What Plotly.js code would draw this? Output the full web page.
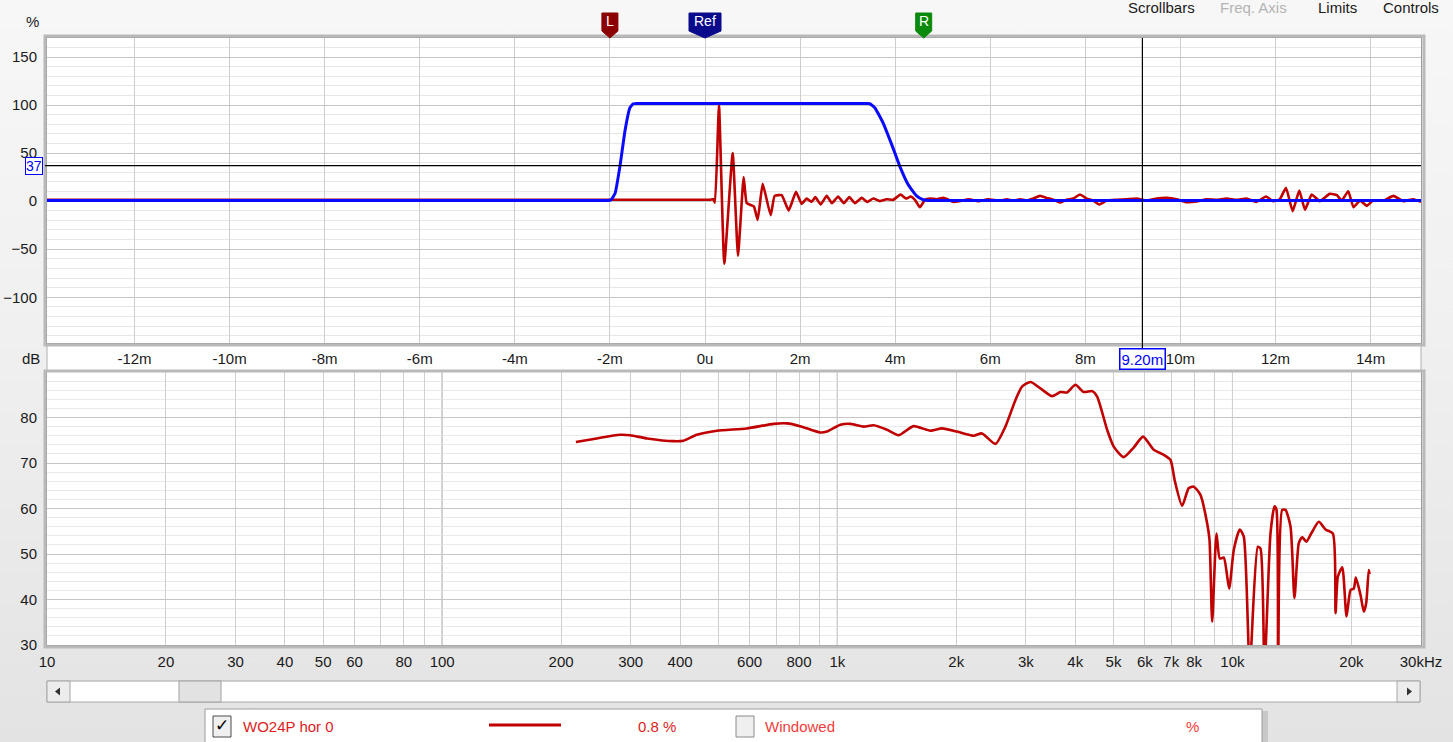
<!DOCTYPE html>
<html><head><meta charset="utf-8">
<script src="https://cdn.plot.ly/plotly-3.0.1.min.js"></script>
<style>
html,body{margin:0;padding:0;width:1453px;height:742px;overflow:hidden;background:linear-gradient(#f7f7f7 0%,#f0f0f0 45%,#e3e3e3 100%);}
#chart{width:1453px;height:742px;}
</style></head><body><div id="chart"></div>
<script>
// ---------- data ----------
const timeMs = [
 -13.84, -8, -2, 0.1, 0.175, 0.21, 0.294, 0.406, 0.582, 0.694, 0.813, 0.876, 0.96,
 1.03, 1.108, 1.213, 1.381, 1.465, 1.613, 1.76, 1.914, 2.033, 2.138,
 2.243, 2.32, 2.433, 2.56, 2.67, 2.80, 2.92, 3.035, 3.155, 3.295,
 3.414, 3.54, 3.68, 3.82, 3.96, 4.115, 4.227, 4.326, 4.416, 4.52,
 4.627, 4.73, 4.87, 5.01, 5.10, 5.21, 5.35, 5.55, 5.75, 5.95,
 6.204, 6.345, 6.485, 6.625, 6.765, 6.905, 7.045, 7.186, 7.326, 7.466,
 7.606, 7.746, 7.886, 8.027, 8.167, 8.29, 8.447, 8.66, 8.868, 9.08,
 9.29, 9.50, 9.71, 9.92, 10.13, 10.34, 10.55, 10.76, 10.97, 11.18,
 11.39, 11.60, 11.80, 11.95, 12.09, 12.22, 12.36, 12.50, 12.62, 12.76,
 12.93, 13.14, 13.29, 13.39, 13.53, 13.64, 13.78, 13.92, 14.05, 14.27,
 14.48, 14.69, 14.90, 15.06];
const impulsePct = [
 1.5, 1.5, 1.5, 1.5, 2, -1.5, 100, -65, 50, -57, 25, -2, -4,
 -5.6, -19.5, 18, -14.6, 5.5, 6.2, -9.8, 9.7, -2.8, 2.7,
 -0.7, 4.2, -3.5, 5.5, -2.1, 4.8, -2.1, 4.2, -2, 3.4,
 -0.7, 2.7, 0, 2, 1.4, 6.9, 2.7, 4.8, 1.4, -6.3,
 1.4, 2.7, 2, 3.4, 2, -0.7, 0, 2, 0, 2,
 0.6, 2, 0.6, 2, 0.6, 2.7, 5.5, 3.4, 1.4, -1.4,
 1.4, 2.7, 6.9, 2.7, 0.6, -3.5, 0.6, 1.4, 2, 2.7,
 0.6, 2.7, 3.4, 2, -1, -0.3, 2, 1.4, 2.7, 1.4,
 2.7, -0.7, 4.8, 0, 2, 13.9, -10.4, 11, -9, 6.9,
 0, 7.6, 6.2, 0.6, 10.4, -6.3, 0.6, -4.9, 0.6, 0.6,
 5.5, 0, 2, -0.7];
const windowTimeMs = [-13.84, -8, -3, -2.05, -1.98, -1.89, -1.79, -1.68, -1.58, -1.51, -1.4, 0, 2, 3.4, 3.47, 3.575, 3.75, 3.93, 4.10, 4.276, 4.45, 4.59, 4.7, 6, 10, 15.06];
const windowPct    = [0.8, 0.8, 0.8, 0.8, 1.2, 8.3, 36, 74, 97, 101.4, 101.6, 101.6, 101.6, 101.6, 101.4, 97, 81, 58.6, 36, 17, 5.5, 1.5, 0.8, 0.8, 0.8, 0.8];

const freqHz = [218, 246, 282, 299, 330, 385, 408, 441, 496, 590,
 690, 746, 805, 905, 941, 1018, 1079, 1166, 1236, 1336,
 1429, 1560, 1720, 1841, 2010, 2213, 2324, 2512, 2663, 2822,
 2934, 3081, 3266, 3495, 3670, 3815, 4004, 4203, 4414, 4545,
 4818, 5006, 5307, 5624, 5940, 6320, 6700, 6966, 7150, 7457,
 7753, 7980, 8299, 8630, 8748, 8885, 9111, 9290, 9507, 9808,
 10077, 10436, 10682, 11060, 11590, 11775, 12050, 12480, 12775, 12925,
 13050, 13360, 13620, 14027, 14350, 14720, 15010, 15390, 15820, 16540,
 17200, 17950, 18235, 18480, 18960, 19440, 19900, 20280, 20520, 21090,
 21500, 21800, 22130, 22240];
const splDb = [74.6, 75.4, 76.2, 76.1, 75.4, 74.8, 74.9, 76.2, 77.1, 77.6,
 78.6, 78.7, 78.1, 76.7, 76.9, 78.4, 78.6, 78.0, 78.3, 77.3,
 76.1, 78.1, 77.1, 77.6, 76.9, 76.0, 76.5, 74.2, 78.0, 83.8,
 86.8, 87.8, 86.4, 84.7, 85.6, 85.5, 87.2, 85.6, 85.8, 84.6,
 77.3, 73.6, 71.3, 73.4, 75.8, 72.9, 71.8, 70.7, 66, 60.6,
 64.5, 64.8, 63.0, 56.7, 53.1, 35.1, 54.5, 49.0, 49.2, 42.4,
 50.9, 55.4, 53.8, 25, 51.6, 51.2, 25, 54.5, 60.5, 59.7,
 25, 59.7, 59.7, 56, 40.3, 52.4, 53.7, 52.7, 54.5, 57.1,
 55.4, 54.5, 37, 45, 47.1, 36.3, 42.1, 42.4, 44.8, 41,
 37.3, 39.2, 46.5, 45.6];

const timeTickVals = [-12, -10, -8, -6, -4, -2, 0, 2, 4, 6, 8, 10, 12, 14];
const timeTickText = ['-12m','-10m','-8m','-6m','-4m','-2m','0u','2m','4m','6m','8m','10m','12m','14m'];
const pctTickVals = [-100, -50, 0, 50, 100, 150];
const freqTickVals = [10,20,30,40,50,60,70,80,90,100,200,300,400,500,600,700,800,900,
 1000,2000,3000,4000,5000,6000,7000,8000,9000,10000,20000,30000];
const freqTickText = ['10','20','30','40','50','60','','80','','100','200','300','400','','600','','800','',
 '1k','2k','3k','4k','5k','6k','7k','8k','','10k','20k','30kHz'];
const dbTickVals = [30, 40, 50, 60, 70, 80];
const decadeHz = [100, 1000, 10000];
const markerNames = ['L', 'Ref', 'R'];
const markerTimes = [-2.0, 0, 4.6];
const markerColors = ['#8b0000', '#0a0a8c', '#0b8a0b'];
const cursorTimeMs = 9.20;
const cursorPct = 37;
const cursorTimeLabel = '9.20m';
const cursorPctLabel = '37';

// ---------- geometry helpers ----------
const W = 1453, H = 742;
const fx = p => p / W;
const fy = p => 1 - p / H;
const FONT = 'Liberation Sans, Arial, sans-serif';
const RED = '#c00000', BLUE = '#0a0aff';

const traces = [
 {x: timeMs, y: impulsePct, xaxis: 'x', yaxis: 'y', mode: 'lines',
  line: {color: RED, width: 2.6, shape: 'spline', smoothing: 0.4}, hoverinfo: 'skip'},
 {x: windowTimeMs, y: windowPct, xaxis: 'x', yaxis: 'y', mode: 'lines',
  line: {color: BLUE, width: 3, shape: 'spline', smoothing: 0.4}, hoverinfo: 'skip'},
 {x: freqHz, y: splDb, xaxis: 'x2', yaxis: 'y2', mode: 'lines',
  line: {color: RED, width: 2.6, shape: 'spline', smoothing: 0.6}, hoverinfo: 'skip'}
];

const shapes = [];
const annotations = [];
function rectPx(x0, y0, x1, y1, fill, lineColor, layer, lw) {
  shapes.push({type: 'rect', xref: 'paper', yref: 'paper', x0: fx(x0), x1: fx(x1), y0: fy(y1), y1: fy(y0),
    fillcolor: fill, line: {color: lineColor || 'rgba(0,0,0,0)', width: lw === undefined ? 1 : lw}, layer: layer || 'above'});
}
function textPx(text, x, y, color, size, xanchor, extra) {
  annotations.push(Object.assign({text: text, xref: 'paper', yref: 'paper', x: fx(x), y: fy(y),
    xanchor: xanchor || 'center', yanchor: 'middle', showarrow: false,
    font: {family: FONT, size: size || 15, color: color || '#1a1a1a'}}, extra || {}));
}

// plot-area frames (shadow-like outer borders)
rectPx(45, 36, 1424, 345, 'rgba(0,0,0,0)', '#b9b9b9', 'above', 3);
rectPx(45, 371, 1424, 647, 'rgba(0,0,0,0)', '#b9b9b9', 'above', 3);
// white strip holding the time-axis labels
rectPx(47, 344, 1421, 371, '#ffffff', '#b0b0b0', 'below', 1);

// darker decade lines on the frequency plot
decadeHz.forEach(f => shapes.push({type: 'line', xref: 'x2', yref: 'y2 domain', x0: f, x1: f, y0: 0, y1: 1,
  line: {color: '#8a8a8a', width: 1}, layer: 'below'}));

// cursor crosshair
shapes.push({type: 'line', xref: 'paper', yref: 'y', x0: fx(45), x1: fx(1421), y0: cursorPct, y1: cursorPct,
  line: {color: '#000000', width: 1.2}, layer: 'above'});
shapes.push({type: 'line', xref: 'x', yref: 'paper', x0: cursorTimeMs, x1: cursorTimeMs, y0: fy(349), y1: fy(38),
  line: {color: '#000000', width: 1.2}, layer: 'above'});
annotations.push({text: cursorPctLabel, xref: 'paper', yref: 'y', x: fx(34), y: cursorPct, showarrow: false,
  xanchor: 'center', yanchor: 'middle', bgcolor: '#ffffff', bordercolor: '#0000ff', borderwidth: 1, borderpad: 0,
  font: {family: FONT, size: 14, color: '#0000ff'}});
annotations.push({text: cursorTimeLabel, xref: 'x', yref: 'paper', x: cursorTimeMs, y: fy(358.5), showarrow: false,
  xanchor: 'center', yanchor: 'middle', bgcolor: '#ffffff', bordercolor: '#0000ff', borderwidth: 1.5, borderpad: 1,
  font: {family: FONT, size: 15, color: '#0000ff'}});

// L / Ref / R markers
markerNames.forEach((name, i) => {
  const half = name.length > 1 ? 16 : 8;
  shapes.push({type: 'path', xref: 'x', yref: 'paper', xsizemode: 'pixel', ysizemode: 'pixel',
    xanchor: markerTimes[i], yanchor: fy(38),
    path: `M ${-half} 7 L ${-half} 25 L ${half} 25 L ${half} 7 L 0 0 Z`,
    fillcolor: markerColors[i], line: {color: markerColors[i], width: 1}, layer: 'above'});
  annotations.push({text: name, xref: 'x', yref: 'paper', x: markerTimes[i], y: fy(21), showarrow: false,
    xanchor: 'center', yanchor: 'middle', font: {family: FONT, size: 14, color: '#ffffff'}});
});

// axis captions
textPx('%', 32, 22, '#1a1a1a', 15);
textPx('dB', 31, 358, '#1a1a1a', 15);

// header menu (at the very top edge)
textPx('Scrollbars', 1161, 8, '#1a1a1a', 15);
textPx('Freq. Axis', 1253, 8, '#b4b4b4', 15);
textPx('Limits', 1337, 8, '#1a1a1a', 15);
textPx('Controls', 1411, 8, '#1a1a1a', 15);

// scrollbar
rectPx(47, 681, 1420, 702, '#ffffff', '#a6a6a6');
rectPx(47, 681, 70, 702, '#ececec', '#a6a6a6');
rectPx(1397, 681, 1420, 702, '#ececec', '#a6a6a6');
rectPx(179, 681, 221, 702, '#e2e2e2', '#a0a0a0');
shapes.push({type: 'path', xref: 'paper', yref: 'paper',
  path: `M ${fx(55)} ${fy(691.5)} L ${fx(60)} ${fy(687.5)} L ${fx(60)} ${fy(695.5)} Z`, fillcolor: '#333', line: {width: 0}});
shapes.push({type: 'path', xref: 'paper', yref: 'paper',
  path: `M ${fx(1412)} ${fy(691.5)} L ${fx(1407)} ${fy(687.5)} L ${fx(1407)} ${fy(695.5)} Z`, fillcolor: '#333', line: {width: 0}});

// legend panel
rectPx(1262, 711, 1268, 745, '#c8c8c8', null, 'above', 0);
rectPx(205, 709, 1262, 745, '#ffffff', '#9c9c9c');
rectPx(213, 716, 231, 737, '#f0f0f0', '#4a4a4a');
textPx('✓', 222, 725, '#000000', 18, 'center', {font: {family: 'DejaVu Sans', size: 17, color: '#000'}});
textPx('WO24P hor 0', 241, 726, '#dd1c1c', 15, 'left');
shapes.push({type: 'line', xref: 'paper', yref: 'paper', x0: fx(489), x1: fx(561), y0: fy(725), y1: fy(725),
  line: {color: RED, width: 3}});
textPx('0.8 %', 636, 726, '#dd1c1c', 15, 'left');
rectPx(736, 716, 754, 737, '#efefef', '#8a8a8a');
textPx('Windowed', 763, 726, '#f23c3c', 15, 'left');
textPx('%', 1192, 726, '#f23c3c', 15, 'center');

const axisFont = {family: FONT, size: 15, color: '#1a1a1a'};
const layout = {
  width: W, height: H, margin: {l: 0, r: 0, t: 0, b: 0, pad: 0},
  paper_bgcolor: 'rgba(0,0,0,0)', plot_bgcolor: '#ffffff', showlegend: false,
  font: {family: FONT, size: 15, color: '#1a1a1a'},
  xaxis: {domain: [fx(47), fx(1421)], anchor: 'y', range: [-13.84, 15.06],
    tickmode: 'array', tickvals: timeTickVals, ticktext: timeTickText, tickfont: axisFont,
    ticks: '', ticklabelstandoff: 2, showgrid: true, gridcolor: '#cdcdcd', gridwidth: 1, zeroline: false,
    showline: true, mirror: true, linecolor: '#9a9a9a', linewidth: 1, fixedrange: true},
  yaxis: {domain: [fy(343), fy(38)], anchor: 'x', range: [-147.6, 169.8],
    tickmode: 'array', tickvals: pctTickVals, tickfont: axisFont, ticks: '', ticklabelstandoff: 6,
    showgrid: true, gridcolor: '#c6c6c6', gridwidth: 1, zeroline: false,
    minor: {tickmode: 'linear', tick0: 0, dtick: 10, showgrid: true, gridcolor: '#e7e7e7', gridwidth: 1, ticks: ''},
    showline: true, mirror: true, linecolor: '#9a9a9a', linewidth: 1, fixedrange: true},
  xaxis2: {domain: [fx(47), fx(1421)], anchor: 'y2', type: 'log', range: [1, Math.log10(30000)],
    tickmode: 'array', tickvals: freqTickVals, ticktext: freqTickText, tickfont: axisFont,
    ticks: '', ticklabelstandoff: 3, showgrid: true, gridcolor: '#d0d0d0', gridwidth: 1, zeroline: false,
    showline: true, mirror: true, linecolor: '#9a9a9a', linewidth: 1, fixedrange: true},
  yaxis2: {domain: [fy(645), fy(372)], anchor: 'x2', range: [30, 90],
    tickmode: 'array', tickvals: dbTickVals, tickfont: axisFont, ticks: '', ticklabelstandoff: 6,
    showgrid: true, gridcolor: '#c6c6c6', gridwidth: 1, zeroline: false,
    minor: {tickmode: 'linear', tick0: 30, dtick: 2, showgrid: true, gridcolor: '#e9e9e9', gridwidth: 1, ticks: ''},
    showline: true, mirror: true, linecolor: '#9a9a9a', linewidth: 1, fixedrange: true},
  shapes: shapes, annotations: annotations
};

Plotly.newPlot('chart', traces, layout, {displayModeBar: false, staticPlot: true});
</script></body></html>
